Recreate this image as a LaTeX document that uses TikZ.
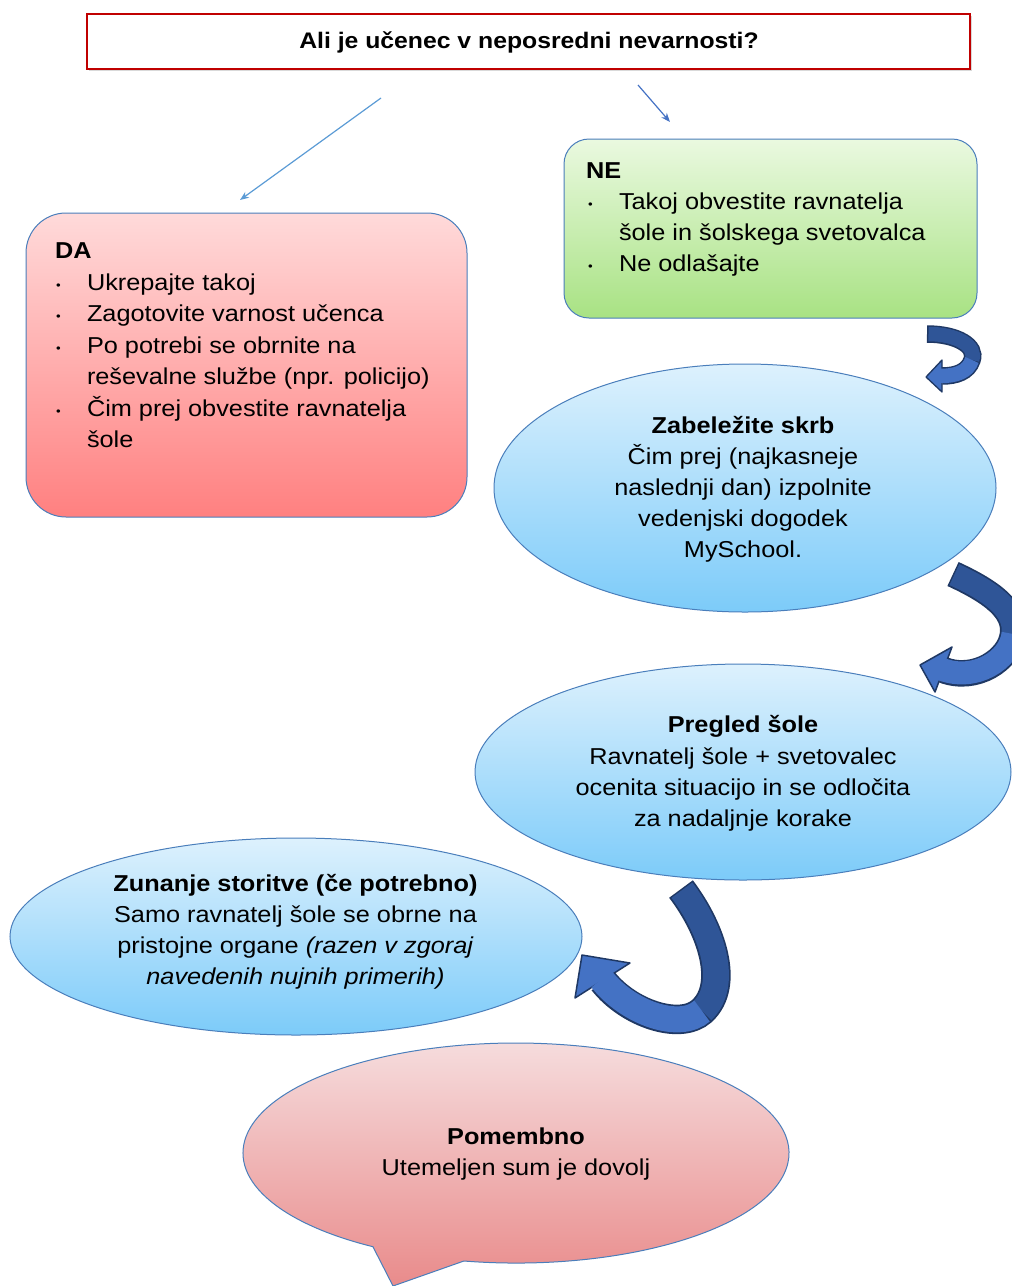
\documentclass[tikz,border=0pt]{standalone}
\usepackage{fontspec}
\setmainfont[FakeStretch=1.1]{Liberation Sans}
\usetikzlibrary{arrows.meta,shapes.geometric,shadows}
\definecolor{titlered}{HTML}{C00000}
\definecolor{outl}{HTML}{4A7EBB}
\definecolor{daTop}{HTML}{FFDADA}
\definecolor{daBot}{HTML}{FF8080}
\definecolor{neTop}{HTML}{EAF9E0}
\definecolor{neBot}{HTML}{A8E283}
\definecolor{elTop}{HTML}{DDF1FD}
\definecolor{elBot}{HTML}{7CCBF9}
\definecolor{pmTop}{HTML}{F6DFE0}
\definecolor{pmBot}{HTML}{E98B8B}
\definecolor{arrDark}{HTML}{2F5597}
\definecolor{arrLight}{HTML}{4472C4}
\definecolor{arrEdge}{HTML}{1F3864}
\definecolor{thinA}{HTML}{5B9BD5}
\definecolor{thinB}{HTML}{4472C4}
\begin{document}
\begin{tikzpicture}[x=1pt,y=-1pt,
  body/.style={font=\fontsize{23}{31}\selectfont, inner sep=0pt, outer sep=0pt, text=black},
  bodyb/.style={font=\fontsize{23}{31}\selectfont\bfseries, inner sep=0pt, outer sep=0pt, text=black},
  lft/.style={anchor=base west},
  ctr/.style={anchor=base},
  bul/.style={font=\fontsize{12}{12}\selectfont, inner sep=0pt, outer sep=0pt, anchor=base west},
  boxshape/.style={draw=outl, line width=1pt, inner sep=0pt},
  thinarrow/.style={line width=1.2pt, -{Stealth[length=9pt,width=7pt]}},
  edgeband/.style={draw=arrEdge, line join=round}
]
\useasboundingbox (0,0) rectangle (1012,1286);

% title
\node[draw=titlered, line width=2.5pt, fill=white, minimum width=883pt, minimum height=55pt, inner sep=0pt,
      drop shadow={shadow xshift=1.5pt, shadow yshift=-2pt, opacity=0.3}] (q) at (528.5,41.5) {};
\node[bodyb, font=\fontsize{22.5}{26}\selectfont\bfseries, ctr] (qt) at (529,48) {Ali je učenec v neposredni nevarnosti?};

% DA box
\node[boxshape, rounded corners=40pt, top color=daTop, bottom color=daBot, minimum width=441pt, minimum height=304pt] (da) at (246.5,365) {};
\node[bodyb, lft] (da0) at (55,258) {DA};
\node[bul] (db1) at (56,289) {•};
\node[body, lft] (da1) at (87,290) {Ukrepajte takoj};
\node[bul] (db2) at (56,320.5) {•};
\node[body, lft] (da2) at (87,321.5) {Zagotovite varnost učenca};
\node[bul] (db3) at (56,352) {•};
\node[body, lft] (da3) at (87,353) {Po potrebi se obrnite na};
\node[body, lft] (da4) at (87,384.5) {reševalne službe (npr. policijo)};
\node[bul] (db5) at (56,415) {•};
\node[body, lft] (da5) at (87,416) {Čim prej obvestite ravnatelja};
\node[body, lft] (da6) at (87,447) {šole};

% NE box
\node[boxshape, rounded corners=25pt, top color=neTop, bottom color=neBot, minimum width=413pt, minimum height=179pt] (ne) at (770.5,228.5) {};
\node[bodyb, lft] (ne0) at (586,178) {NE};
\node[bul] (nb1) at (588,208) {•};
\node[body, lft] (ne1) at (619,209) {Takoj obvestite ravnatelja};
\node[body, lft] (ne2) at (619,240) {šole in šolskega svetovalca};
\node[bul] (nb3) at (588,270) {•};
\node[body, lft] (ne3) at (619,271) {Ne odlašajte};

% ellipse 1
\node[ellipse, boxshape, top color=elTop, bottom color=elBot, minimum width=502pt, minimum height=248pt] (e1) at (745,488) {};
\node[bodyb, ctr] (e1a) at (743,433) {Zabeležite skrb};
\node[body, ctr] (e1b) at (743,464) {Čim prej (najkasneje};
\node[body, ctr] (e1c) at (743,495) {naslednji dan) izpolnite};
\node[body, ctr] (e1d) at (743,526) {vedenjski dogodek};
\node[body, ctr] (e1e) at (743,557) {MySchool.};

% ellipse 2
\node[ellipse, boxshape, top color=elTop, bottom color=elBot, minimum width=536pt, minimum height=216pt] (e2) at (743,772) {};
\node[bodyb, ctr] (e2a) at (743,732) {Pregled šole};
\node[body, ctr] (e2b) at (743,764) {Ravnatelj šole + svetovalec};
\node[body, ctr] (e2c) at (743,795) {ocenita situacijo in se odločita};
\node[body, ctr] (e2d) at (743,826) {za nadaljnje korake};

% ellipse 3
\node[ellipse, boxshape, top color=elTop, bottom color=elBot, minimum width=572pt, minimum height=197pt] (e3) at (296,936.5) {};
\node[bodyb, ctr] (e3a) at (295.5,891) {Zunanje storitve (če potrebno)};
\node[body, ctr] (e3b) at (295.5,922) {Samo ravnatelj šole se obrne na};
\node[body, ctr] (e3c) at (295.5,953) {pristojne organe \textit{(razen v zgoraj}};
\node[body, ctr] (e3d) at (295.5,984) {\textit{navedenih nujnih primerih)}};

% callout
\draw[outl, line width=1pt, top color=pmTop, bottom color=pmBot]
  (463.9,1261) arc[start angle=101, end angle=-238.4, x radius=273, y radius=110] -- (393,1286) -- cycle;
\node[bodyb, ctr] (pm1) at (516,1144) {Pomembno};
\node[body, ctr] (pm2) at (516,1175) {Utemeljen sum je dovolj};

% thin arrows
\coordinate (a1s) at (381,98);
\coordinate (a1e) at (240,200);
\coordinate (a2s) at (638,85);
\coordinate (a2e) at (670,122);
\draw[thinarrow, thinA] (a1s) -- (a1e);
\draw[thinarrow, thinB] (a2s) -- (a2e);

% block arrow A (NE -> e1)
\draw[arrEdge, line width=17.5pt] (927,334) .. controls (957,334) and (977,346) .. (972,360) .. controls (968,372) and (956,376) .. (942,376);
\draw[edgeband, line width=1.3pt, fill=arrLight] (942,360) -- (926,377) -- (942,392) -- cycle;
\draw[arrDark, line width=14.5pt, shorten <=1.5pt] (927,334) .. controls (957,334) and (977,346) .. (972,360);
\draw[arrLight, line width=14.5pt, shorten >=-2pt] (972,360) .. controls (968,372) and (956,376) .. (942,376);

% block arrow B (e1 -> e2)
\draw[arrEdge, line width=26.5pt] (953,574) .. controls (992,592) and (1016,610) .. (1013,634) .. controls (1010,660) and (975,682) .. (943.5,670);
\draw[edgeband, line width=1.5pt, fill=arrLight] (952,647) -- (920,665) -- (935,692) -- cycle;
\draw[arrDark, line width=23pt, shorten <=1.5pt] (953,574) .. controls (992,592) and (1016,610) .. (1013,634);
\draw[arrLight, line width=23pt, shorten >=-2.5pt] (1013,634) .. controls (1010,660) and (975,682) .. (943.5,670);

% block arrow C (e2 -> e3)
\draw[arrEdge, line width=29.5pt] (681,889) .. controls (712,930) and (730,985) .. (702,1011) .. controls (680,1031) and (628,1013) .. (603,981);
\draw[edgeband, line width=1.5pt, fill=arrLight] (630,963) -- (582,955) -- (575,998) -- cycle;
\draw[arrDark, line width=26pt, shorten <=1.5pt] (681,889) .. controls (712,930) and (730,985) .. (702,1011);
\draw[arrLight, line width=26pt, shorten >=-2.5pt] (702,1011) .. controls (680,1031) and (628,1013) .. (603,981);
\end{tikzpicture}
\end{document}
